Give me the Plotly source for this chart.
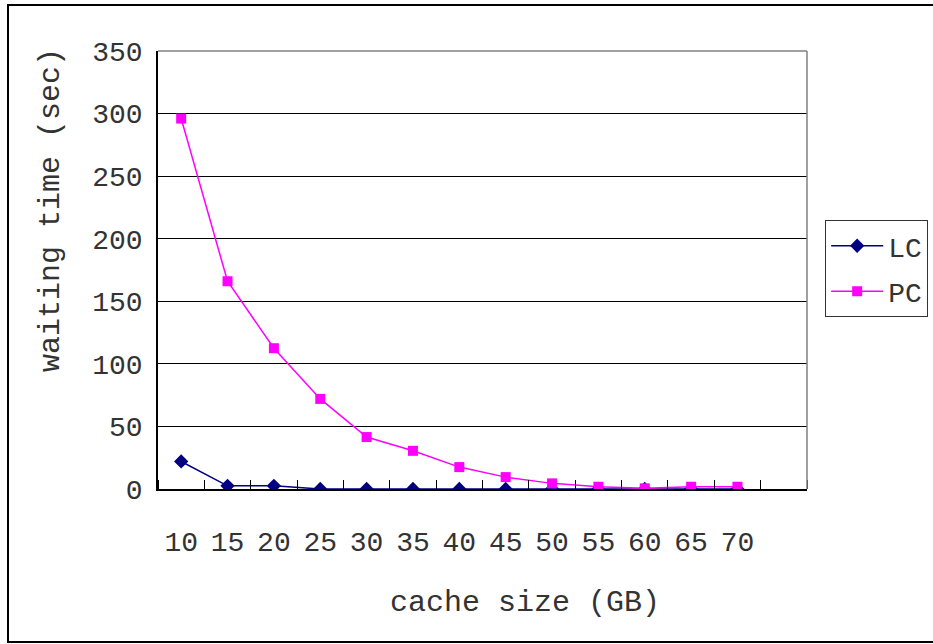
import plotly.graph_objects as go

# cache size categories (GB); the axis leaves room for one empty slot past 70
cache_size = [10, 15, 20, 25, 30, 35, 40, 45, 50, 55, 60, 65, 70]
lc_wait = [22, 2.5, 2.5, 0, 0, 0, 0, 0, 0, 0, 0, 0, 0]
pc_wait = [296, 166, 112.5, 72, 41.5, 30.5, 17.5, 9.5, 4.5, 1.8, 0.5, 1.8, 1.8]
y_ticks = [0, 50, 100, 150, 200, 250, 300, 350]

FONT = "Liberation Mono"
TXT = "#333333"

fig = go.Figure()
fig.add_trace(go.Scatter(
    x=cache_size, y=lc_wait, name="LC", mode="lines+markers",
    legendgroup="lc",
    line=dict(color="#000080", width=1.5),
    marker=dict(symbol="diamond", size=11, color="#000080"),
))
fig.add_trace(go.Scatter(
    x=cache_size, y=pc_wait, name="PC", mode="lines+markers",
    legendgroup="pc",
    line=dict(color="#FF00FF", width=1.5),
    marker=dict(symbol="square", size=10, color="#FF00FF"),
))

fig.update_layout(
    width=933, height=644,
    margin=dict(l=158, r=126, t=51, b=155, autoexpand=False),
    paper_bgcolor="white", plot_bgcolor="white",
    font=dict(family=FONT, color=TXT),
    showlegend=True,
    legend=dict(
        x=1.028, y=0.614, xanchor="left", yanchor="top",
        bordercolor="#333333", borderwidth=1, bgcolor="white",
        font=dict(family=FONT, size=28, color=TXT),
        itemwidth=52, tracegroupgap=6,
    ),
    xaxis=dict(
        range=[7.5, 77.5], tickmode="array", tickvals=cache_size,
        ticktext=[str(v) for v in cache_size], ticks="",
        tickfont=dict(family=FONT, size=28, color=TXT),
        ticklabelstandoff=27,
        showgrid=False, zeroline=False,
        showline=True, linecolor="black", linewidth=1.5,
        mirror=False, automargin=False,
        minor=dict(ticks="inside", tick0=7.5, dtick=5, ticklen=9,
                   tickcolor="black", tickwidth=1, showgrid=False),
    ),
    yaxis=dict(
        range=[0, 350], tickmode="array", tickvals=y_ticks,
        ticks="inside", ticklen=9, tickcolor="black",
        tickfont=dict(family=FONT, size=28, color=TXT),
        ticklabelstandoff=8, automargin=False,
        showgrid=True, gridcolor="black", gridwidth=1,
        zeroline=False, showline=True, linecolor="black", linewidth=1.5,
    ),
    annotations=[
        dict(text="cache size (GB)", xref="paper", yref="paper",
             x=(525 - 158) / 649, y=(489 - 603) / 438, showarrow=False,
             font=dict(family=FONT, size=30, color=TXT),
             xanchor="center", yanchor="middle"),
        dict(text="waiting time (sec)", xref="paper", yref="paper",
             x=(51 - 158) / 649, y=(489 - 210) / 438, showarrow=False,
             textangle=-90, font=dict(family=FONT, size=30, color=TXT),
             xanchor="center", yanchor="middle"),
    ],
    shapes=[
        # plot-area frame: grey top and right edges
        dict(type="line", xref="paper", yref="paper", x0=0, x1=1, y0=1, y1=1,
             line=dict(color="#808080", width=1.5)),
        dict(type="line", xref="paper", yref="paper", x0=1, x1=1, y0=0, y1=1,
             line=dict(color="#808080", width=1.5)),
        # outer chart border
        dict(type="rect", xref="paper", yref="paper",
             x0=(8 - 158) / 649, x1=(960 - 158) / 649,
             y0=(489 - 642) / 438, y1=(489 - 5) / 438,
             line=dict(color="black", width=2), layer="below"),
    ],
)

fig.write_html("out.html")
